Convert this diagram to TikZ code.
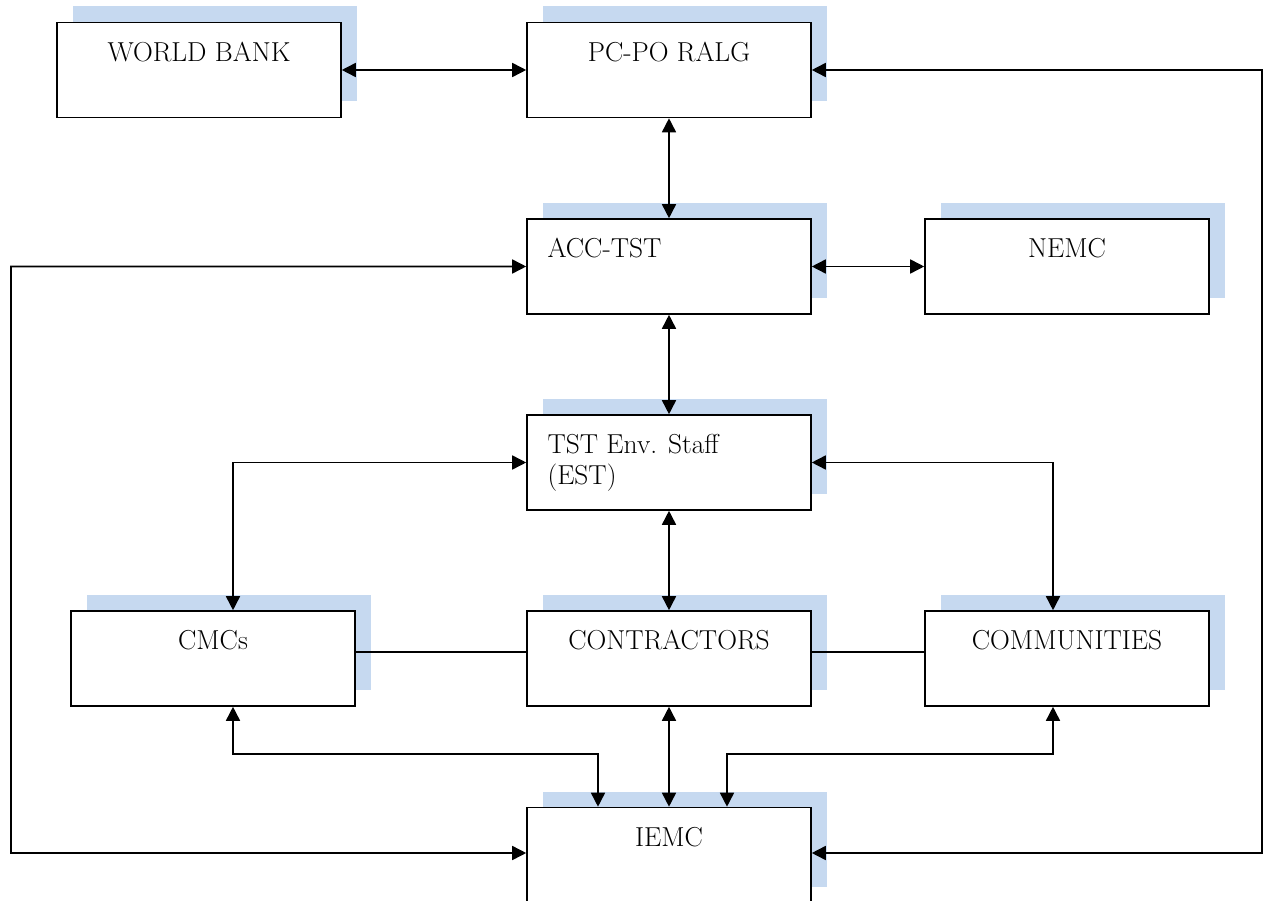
\documentclass[tikz,border=0pt]{standalone}
\usetikzlibrary{arrows.meta,shadows}
\definecolor{shadowblue}{RGB}{198,217,240}
\tikzset{
    box/.style={draw, line width=0.9pt, fill=white, minimum width=5.68cm, minimum height=1.9cm, inner sep=0pt,
        drop shadow={shadow xshift=0.32cm, shadow yshift=0.32cm, fill=shadowblue, opacity=1}},
    txt/.style={inner sep=0pt, font=\fontsize{15.6}{17.6}\selectfont},
    link/.style={line width=0.9pt},
    both/.style={link, {Triangle[length=0.28cm,width=0.28cm]}-{Triangle[length=0.28cm,width=0.28cm]}}
}
\begin{document}
\begin{tikzpicture}
    \useasboundingbox (0,0) rectangle (25.34,-18.02);
    %Dobozok, a bal felső sarokból mérve
    \node[box] (wb)   at (3.98,-1.40)   {};
    \node[box] (pc)   at (13.38,-1.40)  {};
    \node[box] (acc)  at (13.38,-5.33)  {};
    \node[box] (nemc) at (21.34,-5.33)  {};
    \node[box] (tst)  at (13.38,-9.25)  {};
    \node[box] (cmc)  at (4.26,-13.17)  {};
    \node[box] (con)  at (13.38,-13.17) {};
    \node[box] (com)  at (21.34,-13.17) {};
    \node[box] (iemc) at (13.38,-17.10) {};
    %Feliratok a dobozok tetején
    \node[txt, anchor=north] (wb-t)   at ([yshift=-0.40cm]wb.north)   {WORLD BANK};
    \node[txt, anchor=north] (pc-t)   at ([yshift=-0.40cm]pc.north)   {PC-PO RALG};
    \node[txt, anchor=north west] (acc-t) at ([xshift=0.42cm,yshift=-0.40cm]acc.north west) {ACC-TST};
    \node[txt, anchor=north] (nemc-t) at ([yshift=-0.40cm]nemc.north) {NEMC};
    \node[txt, anchor=north west, align=left] (tst-t) at ([xshift=0.42cm,yshift=-0.40cm]tst.north west) {TST Env. Staff\\(EST)};
    \node[txt, anchor=north] (cmc-t)  at ([yshift=-0.40cm]cmc.north)  {CMCs};
    \node[txt, anchor=north] (con-t)  at ([yshift=-0.40cm]con.north)  {CONTRACTORS};
    \node[txt, anchor=north] (com-t)  at ([yshift=-0.40cm]com.north)  {COMMUNITIES};
    \node[txt, anchor=north] (iemc-t) at ([yshift=-0.40cm]iemc.north) {IEMC};
    %Egyenes kapcsolatok
    \draw[both] (wb.east) -- (pc.west);
    \draw[both] (pc.south) -- (acc.north);
    \draw[both] (acc.east) -- (nemc.west);
    \draw[both] (acc.south) -- (tst.north);
    \draw[both] (tst.south) -- (con.north);
    \draw[both] (con.south) -- (iemc.north);
    \draw[link] ([yshift=0.13cm]cmc.east) -- ([yshift=0.13cm]con.west);
    \draw[link] ([yshift=0.13cm]con.east) -- ([yshift=0.13cm]com.west);
    %Megtört vonalak
    \draw[both] (tst.west) -| ([xshift=0.40cm]cmc.north);
    \draw[both] (tst.east) -| ([xshift=-0.28cm]com.north);
    \draw[both] ([xshift=0.40cm]cmc.south) -- ++(0,-0.94) -| ([xshift=-1.42cm]iemc.north);
    \draw[both] ([xshift=-0.28cm]com.south) -- ++(0,-0.94) -| ([xshift=1.16cm]iemc.north);
    \draw[both] (acc.west) -| (0.22,-17.06) -- ([yshift=0.04cm]iemc.west);
    \draw[both] (pc.east) -| (25.24,-17.06) -- ([yshift=0.04cm]iemc.east);
\end{tikzpicture}
\end{document}
